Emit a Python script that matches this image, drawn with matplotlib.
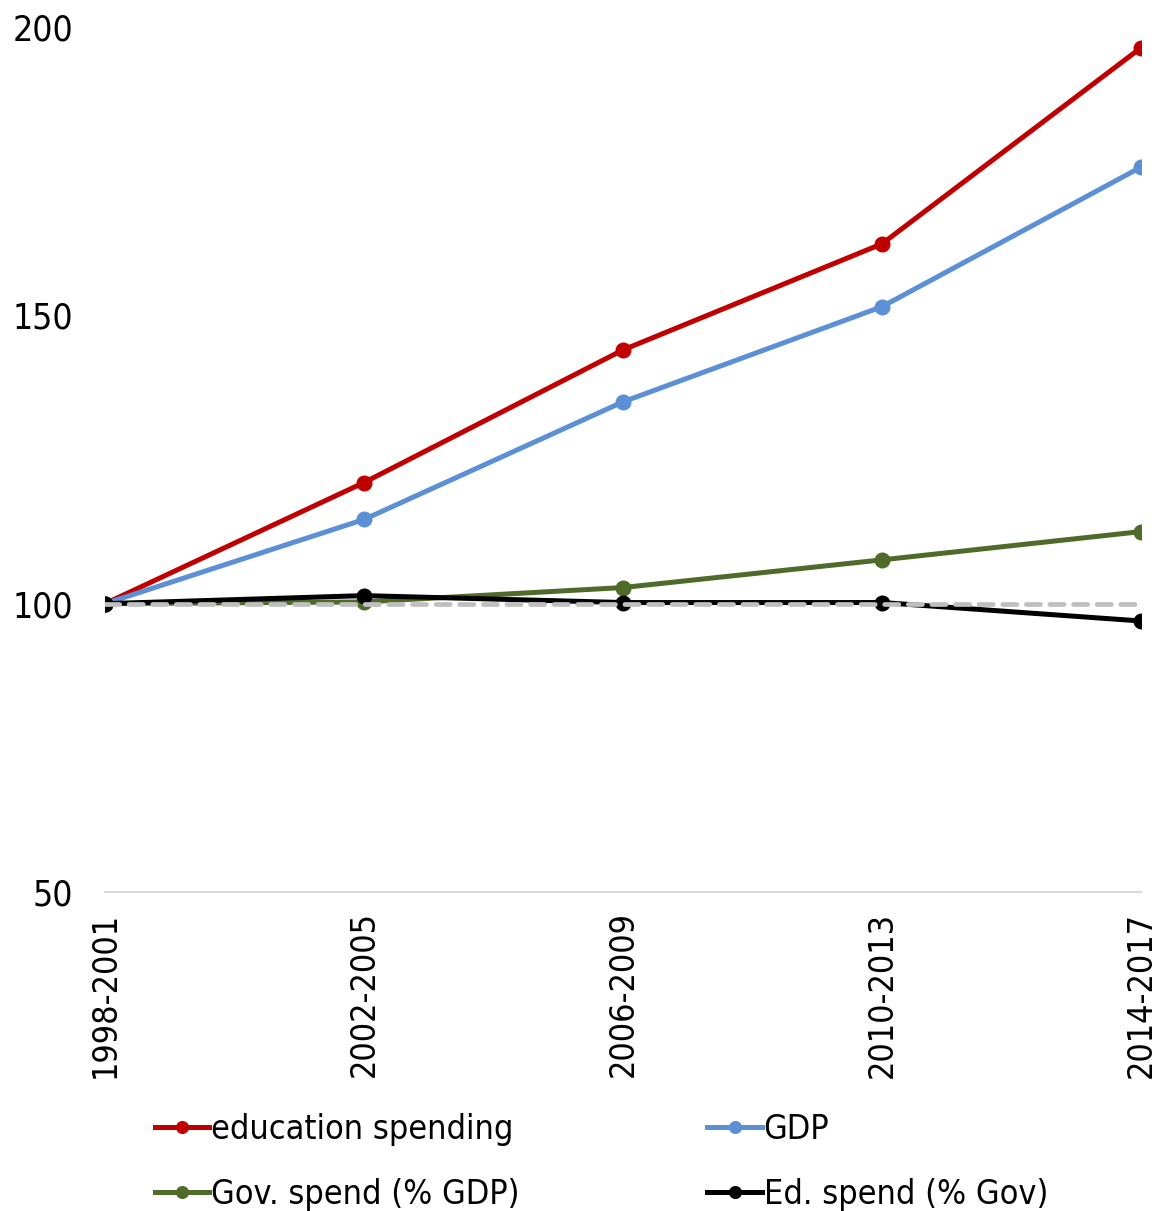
import matplotlib
matplotlib.use("Agg")
import matplotlib.pyplot as plt

plt.rcParams['font.family'] = ['DejaVu Sans']
plt.rcParams['font.stretch'] = 'condensed'

periods = ["1998-2001", "2002-2005", "2006-2009", "2010-2013", "2014-2017"]
edu_spending = [100, 121.0, 144.0, 162.4, 196.4]
gdp = [100, 114.6, 135.0, 151.5, 175.7]
gov_spend_gdp = [100, 100.3, 102.8, 107.6, 112.5]
ed_spend_gov = [100, 101.4, 100.2, 100.2, 97.0]
baseline = [100, 100, 100, 100, 100]

x = list(range(len(periods)))

fig = plt.figure(figsize=(11.6, 12.11), dpi=100)
ax = fig.add_axes([0.0905, 0.2634, 0.8931, 0.7143])

lw = 3.6
ms = 10.5
l1, = ax.plot(x, edu_spending, color="#c00000", lw=lw, marker="o", ms=ms, label="education spending", zorder=3)
l2, = ax.plot(x, gdp, color="#5b8fd6", lw=lw, marker="o", ms=ms, label="GDP", zorder=3)
l3, = ax.plot(x, gov_spend_gdp, color="#4f6b2a", lw=lw, marker="o", ms=ms, label="Gov. spend (% GDP)", zorder=3)
l4, = ax.plot(x, ed_spend_gov, color="black", lw=lw, marker="o", ms=ms, label="Ed. spend (% Gov)", zorder=4)
ax.plot(x, baseline, color="#bfbfbf", lw=3.4, ls=(0, (3, 2)), dash_capstyle="round", zorder=5)

ax.set_xlim(0, 4)
ax.set_ylim(50, 200)
ax.set_yticks([50, 100, 150, 200])
ax.set_xticks(x)
ax.set_xticklabels(periods, rotation=90, fontsize=24.5)
ax.tick_params(axis="y", labelsize=25.5, length=0, pad=23)
ax.tick_params(axis="x", length=0, pad=14)

for s in ["top", "right", "left"]:
    ax.spines[s].set_visible(False)
ax.spines["bottom"].set_color("#d9d9d9")
ax.spines["bottom"].set_linewidth(1.5)

fig.legend([l1, l3, l2, l4], [l1.get_label(), l3.get_label(), l2.get_label(), l4.get_label()],
           ncol=2, loc="upper left", bbox_to_anchor=(0.1336, 0.081), frameon=False,
           borderpad=0, borderaxespad=0,
           fontsize=24.5, handlelength=1.6, handletextpad=0.05, columnspacing=5.52,
           labelspacing=0.93, markerscale=0.8)

fig.savefig("out.png", dpi=100)
